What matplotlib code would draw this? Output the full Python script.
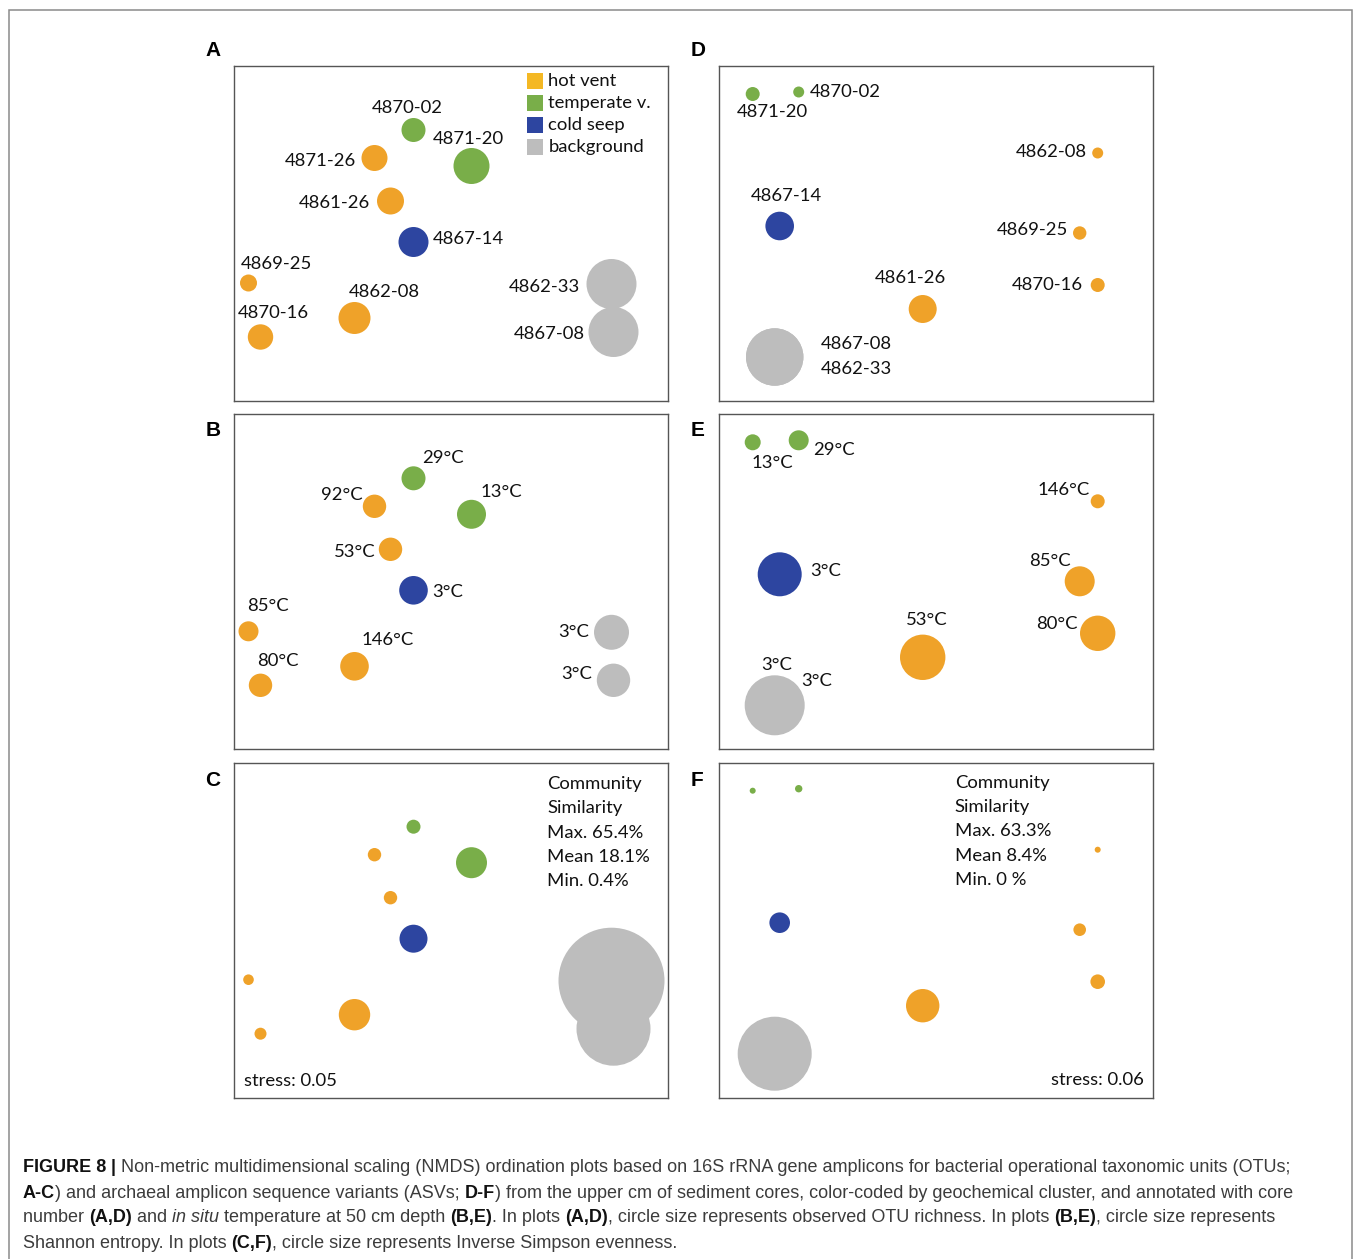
import matplotlib
matplotlib.use('Agg')
import matplotlib.pyplot as plt
from matplotlib.patches import Rectangle

W, H = 1355, 1259

# cluster colours
cluster_names = ['hot vent', 'temperate v.', 'cold seep', 'background']
cluster_colors = ['#EFA229', '#79AE49', '#2D45A0', '#BDBDBD']
legend_colors = ['#F4B824', '#79AE49', '#2D45A0', '#BDBDBD']

# bacterial OTU ordination (NMDS scores, panel pixels)
bac_samples = ['4870-02', '4871-20', '4871-26', '4861-26', '4867-14',
               '4869-25', '4862-08', '4870-16', '4862-33', '4867-08']
bac_cluster = [1, 1, 0, 0, 2, 0, 0, 0, 3, 3]
bac_x = [180, 238, 141, 157, 180, 15, 121, 27, 378, 380]
bac_y = [64, 100, 92, 135, 176, 217, 252, 271, 218, 266]
bac_richness = [12, 18, 13, 13.5, 15, 8.5, 16, 12.7, 25, 25]
bac_shannon = [12, 14.5, 11.7, 11.7, 14.3, 10, 14.3, 11.7, 17.5, 16.7]
bac_invsimpson = [7, 15.5, 6.7, 6.7, 14, 5.3, 15.7, 6, 53, 37]

# archaeal ASV ordination
arc_samples = ['4870-02', '4871-20', '4861-26', '4867-14', '4869-25',
               '4862-08', '4870-16', '4862-33', '4867-08']
arc_cluster = [1, 1, 0, 2, 0, 0, 0, 3, 3]
arc_x = [80, 34, 204, 61, 361, 379, 379, 56, 56]
arc_y = [26, 28, 243, 160, 167, 87, 219, 291, 291]
arc_richness = [5.5, 7, 14, 14.3, 6.7, 5.5, 7, 28.7, 28.7]
arc_shannon = [10, 8, 22.7, 22, 15, 7, 17.7, 30, 29]
arc_invsimpson = [3.7, 3, 16.7, 10.3, 6.3, 3, 7.3, 37, 36]

# in situ temperature at 50 cm
temperature = {'4870-02': 29, '4871-20': 13, '4871-26': 92, '4861-26': 53,
               '4867-14': 3, '4869-25': 85, '4862-08': 146, '4870-16': 80,
               '4862-33': 3, '4867-08': 3}

sim_C = ['Community', 'Similarity', 'Max. 65.4%', 'Mean 18.1%', 'Min. 0.4%']
sim_F = ['Community', 'Similarity', 'Max. 63.3%', 'Mean 8.4%', 'Min. 0 %']
stress_C = 'stress: 0.05'
stress_F = 'stress: 0.06'

# label placement (panel pixels, horizontal alignment) per sample
lab_A = {'4870-02': (174, 42, 'center'), '4871-20': (235, 73, 'center'),
         '4871-26': (123, 95, 'right'), '4861-26': (137, 137, 'right'),
         '4867-14': (199, 173, 'left'), '4869-25': (7, 198, 'left'),
         '4862-08': (115, 226, 'left'), '4870-16': (4, 247, 'left'),
         '4862-33': (347, 221, 'right'), '4867-08': (351, 268, 'right')}
lab_B = {'4870-02': (189, 44, 'left'), '4871-20': (247, 78, 'left'),
         '4871-26': (129, 81, 'right'), '4861-26': (142, 138, 'right'),
         '4867-14': (199, 178, 'left'), '4869-25': (14, 192, 'left'),
         '4862-08': (128, 226, 'left'), '4870-16': (24, 247, 'left'),
         '4862-33': (356, 218, 'right'), '4867-08': (359, 260, 'right')}
lab_D = {'4870-02': (91, 26, 'left'), '4871-20': (18, 46, 'left'),
         '4861-26': (156, 212, 'left'), '4867-14': (32, 130, 'left'),
         '4869-25': (349, 164, 'right'), '4862-08': (368, 86, 'right'),
         '4870-16': (364, 219, 'right'), '4867-08': (102, 278, 'left'),
         '4862-33': (102, 303, 'left')}
lab_E = {'4871-20': (33, 49, 'left'), '4870-02': (94, 36, 'left'),
         '4862-08': (371, 76, 'right'), '4867-14': (92, 157, 'left'),
         '4869-25': (352, 147, 'right'), '4870-16': (359, 210, 'right'),
         '4861-26': (208, 206, 'center'), '4862-33': (58, 251, 'center'),
         '4867-08': (83, 267, 'left')}

FONT = ['Lato', 'DejaVu Sans']
FS = 13.3

fig = plt.figure(figsize=(W / 100, H / 100), dpi=100)

# outer frame of the figure box
fig.patches.append(Rectangle((8.5 / W, -0.05), (1352 - 8.5) / W, 1 - 9.5 / H + 0.05,
                             transform=fig.transFigure, fill=False,
                             edgecolor='#8a8a8a', linewidth=1.1))

col_left = [233.5, 718.7]
row_top = [66, 414.3, 762.7]
pw, ph = 434.5, 335


def make_ax(col, row):
    l = col_left[col]
    t = row_top[row]
    ax = fig.add_axes([l / W, 1 - (t + ph) / H, pw / W, ph / H])
    ax.set_xlim(0, pw)
    ax.set_ylim(ph, 0)
    ax.set_xticks([])
    ax.set_yticks([])
    for s in ax.spines.values():
        s.set_color('#555555')
        s.set_linewidth(1.0)
    return ax


def bubbles(ax, x, y, r, clusters):
    cols = [cluster_colors[c] for c in clusters]
    ax.scatter(x, y, s=[(1.44 * v) ** 2 for v in r], c=cols, linewidths=0, zorder=2)


def labels(ax, layout, texts):
    for name, (lx, ly, ha) in layout.items():
        ax.text(lx, ly, texts[name], ha=ha, va='center', fontsize=FS,
                family=FONT, color='#111111', zorder=3)


def panel_letter(x, y, letter):
    fig.text(x / W, 1 - y / H, letter, ha='center', va='center', fontsize=15,
             fontweight='bold', family=['Liberation Sans', 'DejaVu Sans'])


# A
axA = make_ax(0, 0)
bubbles(axA, bac_x, bac_y, bac_richness, bac_cluster)
labels(axA, lab_A, {s: s for s in bac_samples})
for i, (name, c) in enumerate(zip(cluster_names, legend_colors)):
    axA.scatter([301], [15 + 22 * i], marker='s', s=11.5 ** 2, c=c, linewidths=0)
    axA.text(315, 15 + 22 * i, name, ha='left', va='center', fontsize=FS,
             family=FONT, color='#111111')

# B
axB = make_ax(0, 1)
bubbles(axB, bac_x, bac_y, bac_shannon, bac_cluster)
labels(axB, lab_B, {s: '%d°C' % temperature[s] for s in bac_samples})

# C
axC = make_ax(0, 2)
bubbles(axC, bac_x, bac_y, bac_invsimpson, bac_cluster)
for i, line in enumerate(sim_C):
    axC.text(313.5, 21 + 24.4 * i, line, ha='left', va='center', fontsize=FS,
             family=FONT, color='#111111')
axC.text(10, 318.5, stress_C, ha='left', va='center', fontsize=FS, family=FONT,
         color='#111111')

# D
axD = make_ax(1, 0)
bubbles(axD, arc_x, arc_y, arc_richness, arc_cluster)
labels(axD, lab_D, {s: s for s in arc_samples})

# E
axE = make_ax(1, 1)
bubbles(axE, arc_x, arc_y, arc_shannon, arc_cluster)
labels(axE, lab_E, {s: '%d°C' % temperature[s] for s in arc_samples})

# F
axF = make_ax(1, 2)
bubbles(axF, arc_x, arc_y, arc_invsimpson, arc_cluster)
for i, line in enumerate(sim_F):
    axF.text(236, 20 + 24.4 * i, line, ha='left', va='center', fontsize=FS,
             family=FONT, color='#111111')
axF.text(425, 317.5, stress_F, ha='right', va='center', fontsize=FS, family=FONT,
         color='#111111')

panel_letter(213, 50, 'A')
panel_letter(698, 51, 'D')
panel_letter(213, 431, 'B')
panel_letter(698, 431, 'E')
panel_letter(213, 781, 'C')
panel_letter(697, 781, 'F')

# caption
caption = [
    [('FIGURE 8', 'b'), (' | ', 'b'),
     ('Non-metric multidimensional scaling (NMDS) ordination plots based on 16S rRNA gene '
      'amplicons for bacterial operational taxonomic units (OTUs;', 'n')],
    [('A-C', 'b'), (') and archaeal amplicon sequence variants (ASVs; ', 'n'), ('D-F', 'b'),
     (') from the upper cm of sediment cores, color-coded by geochemical cluster, and '
      'annotated with core', 'n')],
    [('number ', 'n'), ('(A,D)', 'b'), (' and ', 'n'), ('in situ', 'i'),
     (' temperature at 50 cm depth ', 'n'), ('(B,E)', 'b'), ('. In plots ', 'n'),
     ('(A,D)', 'b'), (', circle size represents observed OTU richness. In plots ', 'n'),
     ('(B,E)', 'b'), (', circle size represents', 'n')],
    [('Shannon entropy. In plots ', 'n'), ('(C,F)', 'b'),
     (', circle size represents Inverse Simpson evenness.', 'n')],
]
cap_y = [1167, 1193, 1218, 1244]
CAP_FONT = ['Liberation Sans Narrow', 'Liberation Sans', 'DejaVu Sans']
renderer = fig.canvas.get_renderer()


def rich_line(x, y, pieces, size):
    objs = []
    for txt, st in pieces:
        t = fig.text(x / W, 1 - y / H, txt, ha='left', va='center', fontsize=size,
                     family=CAP_FONT,
                     fontweight='bold' if st == 'b' else 'normal',
                     fontstyle='italic' if st == 'i' else 'normal',
                     color='#111111' if st == 'b' else '#3c3c3c')
        x += t.get_window_extent(renderer).width
        objs.append(t)
    return x, objs


end, probe = rich_line(23, cap_y[0], caption[0], 12)
for t in probe:
    t.remove()
cap_size = 12 * (1290 - 23) / (end - 23)
for line, y in zip(caption, cap_y):
    rich_line(23, y, line, cap_size)

fig.savefig('out.png', dpi=100)
